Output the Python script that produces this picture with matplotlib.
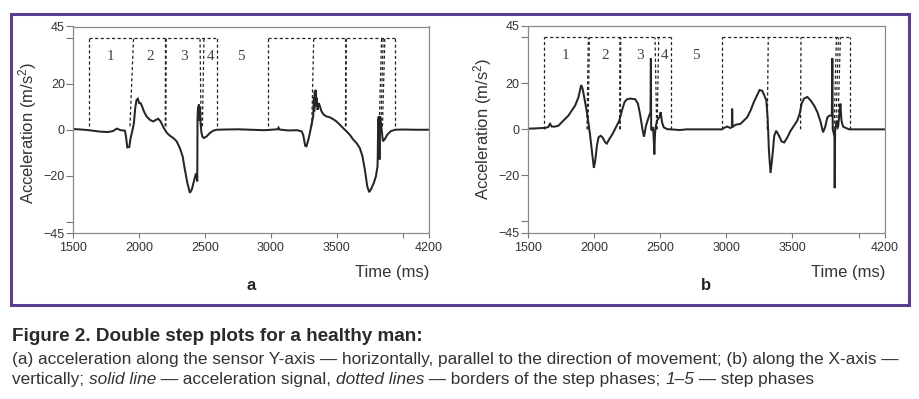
import matplotlib as mtl
mtl.use('Agg')
import matplotlib.pyplot as plt
from matplotlib.patches import Rectangle

### DATA ###

# panel a: acceleration along the Y-axis (time in ms, acceleration in m/s2)
time_a = [1500, 1560, 1620, 1700, 1760, 1800, 1830, 1860, 1892, 1900, 1910, 1925, 1935, 1950, 1960,
	1970, 1980, 1990, 2000, 2011, 2021, 2036, 2056, 2082, 2107, 2127, 2145, 2163, 2183, 2208,
	2233, 2259, 2284, 2309, 2330, 2347, 2365, 2385, 2400, 2415, 2431, 2441, 2443, 2447, 2450,
	2453, 2457, 2461, 2466, 2472, 2480, 2491, 2512, 2537, 2563, 2588, 2650, 2750, 2850, 2950,
	3050, 3058, 3065, 3130, 3200, 3233, 3245, 3260, 3270, 3283, 3296, 3308, 3321, 3326, 3329,
	3333, 3336, 3339, 3343, 3348, 3354, 3364, 3374, 3384, 3402, 3422, 3448, 3473, 3498, 3523,
	3549, 3574, 3599, 3625, 3650, 3675, 3695, 3713, 3731, 3746, 3761, 3781, 3797, 3809, 3811,
	3814, 3819, 3824, 3829, 3835, 3842, 3850, 3862, 3883, 3908, 3941, 4000, 4100, 4200]
acc_a = [0.3, 0.1, -0.2, -0.8, -1.0, -0.6, 0.5, -0.2, -0.4, -3.0, -7.7, -7.5, -3.6, 0.0, 2.9,
	9.4, 13.0, 13.5, 11.6, 11.6, 10.4, 8.0, 5.8, 4.3, 3.6, 4.3, 4.8, 3.6, 1.2, -1.2,
	-2.6, -3.6, -5.0, -8.0, -11.6, -17.4, -23.0, -27.5, -26.0, -22.5, -19.0, -22.5, 5.0, 10.0, 4.0,
	11.0, 6.0, 10.0, 3.0, -1.0, -3.0, -3.6, -2.9, -1.4, -0.4, 0.0, 0.1, 0.2, 0.0, -0.2,
	0.2, 0.9, 0.1, -0.3, -0.2, -0.7, -2.2, -7.0, -7.2, -4.6, -1.4, 2.2, 5.8, 14.0, 8.0,
	16.7, 10.0, 17.4, 12.0, 14.0, 8.7, 11.6, 9.9, 8.0, 6.5, 5.8, 5.4, 4.6, 3.6, 2.2,
	0.7, -0.7, -2.2, -4.3, -5.8, -8.0, -11.6, -17.4, -24.6, -27.2, -25.8, -23.2, -20.3, -16.0, -12.0,
	4.3, 5.8, -13.0, 5.8, 2.9, -0.7, -5.0, -4.3, -2.2, -0.7, 0.0, 0.1, 0.0, 0.0]

# panel b: acceleration along the X-axis
time_b = [1500, 1560, 1610, 1631, 1655, 1669, 1682, 1707, 1732, 1758, 1783, 1808, 1833, 1859, 1884,
	1904, 1914, 1929, 1947, 1960, 1972, 1985, 2000, 2010, 2023, 2035, 2051, 2066, 2086, 2098,
	2116, 2141, 2167, 2192, 2212, 2232, 2250, 2275, 2313, 2333, 2351, 2369, 2379, 2394, 2414,
	2428, 2431, 2433, 2440, 2447, 2452, 2457, 2462, 2467, 2477, 2495, 2505, 2515, 2528, 2553,
	2580, 2650, 2700, 2850, 2969, 2982, 3007, 3032, 3043, 3045, 3048, 3070, 3108, 3133, 3159,
	3184, 3209, 3234, 3252, 3272, 3287, 3303, 3313, 3323, 3335, 3348, 3363, 3378, 3399, 3419,
	3439, 3462, 3487, 3512, 3537, 3555, 3570, 3588, 3613, 3638, 3664, 3689, 3714, 3732, 3747,
	3765, 3782, 3798, 3802, 3805, 3812, 3818, 3820, 3823, 3835, 3845, 3856, 3863, 3871, 3883,
	3904, 3929, 4000, 4100, 4200]
acc_b = [0.3, 0.4, 0.6, 0.6, 1.0, 2.4, 1.2, 1.2, 1.6, 3.1, 4.6, 6.0, 8.2, 10.4, 14.1,
	19.3, 17.9, 13.4, 7.5, 2.4, -2.8, -9.4, -16.8, -13.8, -7.2, -3.5, -2.8, -3.5, -5.7, -6.2,
	-4.3, -2.0, 0.9, 3.8, 8.2, 11.9, 13.1, 13.4, 13.1, 11.2, 6.0, -0.6, -3.2, 1.6, 5.3,
	7.5, 31.0, 0.0, -0.5, 1.0, -4.0, -10.9, -2.0, 1.0, 3.8, 5.3, 7.5, 3.1, 0.9, 0.1,
	0.0, -0.3, 0.0, 0.0, 0.0, 0.6, 1.2, 0.6, 1.0, 9.0, 1.0, 2.0, 2.4, 3.8, 5.3,
	8.2, 11.9, 14.9, 17.1, 16.8, 14.9, 12.6, 5.3, -9.4, -19.0, -12.4, -2.8, -0.6, -2.8, -5.3,
	-5.7, -3.5, -0.6, 1.6, 3.8, 6.8, 11.2, 13.4, 14.1, 12.6, 10.4, 7.5, 3.1, -1.3, 0.9,
	5.3, 6.0, 6.0, 31.0, 0.0, -1.5, -3.5, -25.6, -0.5, 3.8, 0.9, 6.8, 11.2, 3.8, 1.2,
	0.6, 0.0, 0.0, 0.0, 0.0]

# borders of the step phases (time at the bottom, time at the top of each dotted line)
border_bot_a = [1621, 1930, 2198, 2203, 2470, 2480, 2588, 2980, 3310, 3566, 3570, 3822, 3835, 3847, 3941]
border_top_a = [1621, 1957, 2200, 2205, 2462, 2492, 2588, 2980, 3325, 3568, 3572, 3840, 3852, 3865, 3941]
border_bot_b = [1624, 1948, 1956, 2195, 2200, 2475, 2478, 2583, 2969, 3310, 3562, 3815, 3828, 3843, 3934]
border_top_b = [1624, 1958, 1966, 2197, 2203, 2462, 2490, 2583, 2969, 3318, 3565, 3833, 3848, 3863, 3934]
steps_a = [(1621, 2588), (2980, 3941)]
steps_b = [(1624, 2583), (2969, 3934)]

phase_names = ['1', '2', '3', '4', '5']
phase_x_a = [1784, 2087, 2340, 2545, 2770]
phase_x_b = [1783, 2086, 2351, 2535, 2768]

xticks = [1500, 2000, 2500, 3000, 3500, 4000, 4200]
xtick_labels = ['1500', '2000', '2500', '3000', '3500', '', '4200']
yticks = [45, 40, 20, 0, -20, -40, -45]
ytick_labels = ['45', '', '20', '0', '\u221220', '', '\u221245']

### PLOTTING ###

plt.rcParams['font.family'] = ['Liberation Sans', 'DejaVu Sans']
plt.rcParams['mathtext.fontset'] = 'custom'
plt.rcParams['mathtext.rm'] = 'Liberation Sans'
plt.rcParams['mathtext.it'] = 'Liberation Sans:italic'

W, H = 920, 399
fig = plt.figure(figsize=(W / 100, H / 100), dpi=100)

def fx(px):
	return px / W

def fy(py):
	return 1 - py / H

def draw_panel(rect, t, acc, bot, top, steps, phase_x, low, letter, ylab_x, ylab_y):
	ax = fig.add_axes(rect)
	ax.plot(t, acc, color='#262626', lw=1.45, solid_joinstyle='miter')
	for b0, b1 in zip(bot, top):
		ax.plot([b0, b1], [low, 40], color='#222222', lw=0.9, ls=(0, (2.5, 2)))
	for s0, s1 in steps:
		ax.plot([s0, s1], [40, 40], color='#222222', lw=0.9, ls=(0, (2.5, 2)))
	for name, px in zip(phase_names, phase_x):
		ax.text(px, 32, name, family='Liberation Serif', fontsize=11, color='#444444',
			ha='center', va='center')
	ax.set_xlim(1500, 4200)
	ax.set_ylim(-45, 45)
	ax.set_xticks(xticks)
	ax.set_xticklabels(xtick_labels)
	ax.set_yticks(yticks)
	ax.set_yticklabels(ytick_labels)
	ax.tick_params(axis='x', direction='out', length=3.6, width=0.8, color='#777777',
		labelsize=9, labelcolor='#333333', pad=3)
	ax.tick_params(axis='y', direction='out', length=5, width=0.8, color='#777777',
		labelsize=9, labelcolor='#333333', pad=1)
	for sp in ax.spines.values():
		sp.set_color('#8a8a8a')
		sp.set_linewidth(0.9)
	x_right = rect[0] + rect[2]
	x_mid = rect[0] + rect[2] / 2
	fig.text(x_right, fy(273), 'Time (ms)', ha='right', va='center', fontsize=12, color='#333333')
	fig.text(x_mid, fy(285), letter, ha='center', va='center', fontsize=12,
		fontweight='bold', color='#222222')
	fig.text(ylab_x, ylab_y, 'Acceleration (m/s$^2$)', rotation=90, ha='center', va='center',
		fontsize=12, color='#333333')
	return ax

draw_panel([fx(73.3), fy(233), fx(429 - 73.3), (233 - 26.5) / H], time_a, acc_a,
	border_bot_a, border_top_a, steps_a, phase_x_a, 1.5, 'a', fx(28), fy(133))
draw_panel([fx(527.7), fy(232.7), fx(885 - 527.7), (232.7 - 26) / H], time_b, acc_b,
	border_bot_b, border_top_b, steps_b, phase_x_b, 0.0, 'b', fx(483), fy(129))

# purple frame round both panels
fig.patches.append(Rectangle((fx(11), fy(305)), fx(909 - 11), (305 - 14) / H, fill=False,
	edgecolor='#5b3d8e', lw=2.2, transform=fig.transFigure))

### CAPTION ###

renderer = fig.canvas.get_renderer()
cap_size = 12.4

def piece_width(txt, style):
	# width of the text including its spaces (measured against a bar)
	t1 = fig.text(0, 0, txt + '|', fontsize=cap_size, fontstyle=style)
	t2 = fig.text(0, 0, '|', fontsize=cap_size, fontstyle=style)
	w = t1.get_window_extent(renderer).width - t2.get_window_extent(renderer).width
	t1.remove()
	t2.remove()
	return w / W

def write_line(x, y, parts):
	for txt, style in parts:
		fig.text(x, y, txt, fontsize=cap_size, fontstyle=style, color='#333333', va='baseline')
		x += piece_width(txt, style)

fig.text(fx(12), fy(341), 'Figure 2. Double step plots for a healthy man:', fontsize=13.6,
	fontweight='bold', color='#2a2a2a', va='baseline')
write_line(fx(12), fy(364), [('(a) acceleration along the sensor Y-axis \u2014 horizontally, parallel to the '
	'direction of movement; (b) along the X-axis \u2014', 'normal')])
write_line(fx(12), fy(384), [('vertically; ', 'normal'), ('solid line', 'italic'),
	(' \u2014 acceleration signal, ', 'normal'), ('dotted lines', 'italic'),
	(' \u2014 borders of the step phases; ', 'normal'), ('1\u20135', 'italic'),
	(' \u2014 step phases', 'normal')])

plt.savefig('out.png', dpi=100)
